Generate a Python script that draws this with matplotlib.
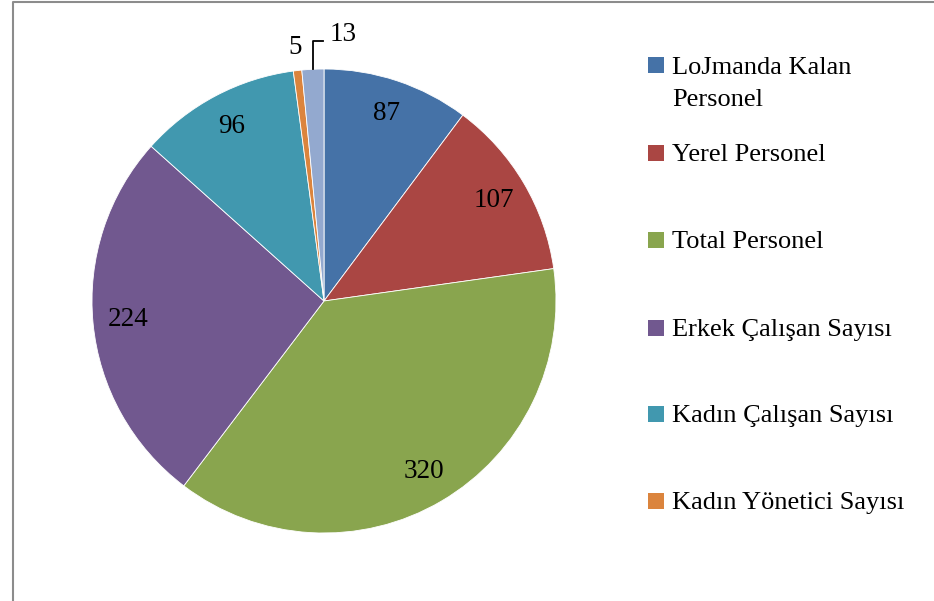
import numpy as np
import matplotlib.pyplot as plt
from matplotlib.lines import Line2D
from matplotlib.patches import Rectangle

# data
labels = ["LoJmanda Kalan\nPersonel", "Yerel Personel", "Total Personel",
          "Erkek Çalışan Sayısı", "Kadın Çalışan Sayısı",
          "Kadın Yönetici Sayısı", "Kadın Yönetici Oranı"]
values = [87, 107, 320, 224, 96, 5, 13]
colors = ["#4572A7", "#AA4643", "#89A54E", "#71588F", "#4198AF", "#DB843D", "#93A9CF"]

plt.rcParams['font.family'] = ['Liberation Serif', 'DejaVu Serif']

W, H = 934, 601
fig = plt.figure(figsize=(W / 100, H / 100), dpi=100)

# pie axes (center ~ (324, 301) px, radius ~232 px)
cx, cy, r = 324, 301, 232
ax = fig.add_axes([(cx - r) / W, (H - cy - r) / H, 2 * r / W, 2 * r / H])
wedges, _ = ax.pie(values, colors=colors, startangle=90, counterclock=False,
                   radius=1, wedgeprops=dict(edgecolor="white", linewidth=0.6))
ax.set_xlim(-1, 1)
ax.set_ylim(-1, 1)
ax.set_aspect("equal")
ax.axis("off")

# value labels
for w, v in zip(wedges, values):
    mid = np.deg2rad((w.theta1 + w.theta2) / 2)
    if v >= 50:
        ax.text(0.85 * np.cos(mid), 0.85 * np.sin(mid), str(v), fontsize=19.5,
                ha="center", va="center")

# small slices outside
w5 = wedges[5]
m5 = np.deg2rad((w5.theta1 + w5.theta2) / 2)
ax.text(1.10 * np.cos(m5), 1.10 * np.sin(m5), str(values[5]), fontsize=19.5,
        ha="center", va="center")

w13 = wedges[6]
m13 = np.deg2rad((w13.theta1 + w13.theta2) / 2)
x0, y0 = np.cos(m13), np.sin(m13)
ax.plot([x0, x0, x0 + 0.045], [y0, 1.12, 1.12], color="black", lw=1.3, clip_on=False)
ax.text(x0 + 0.07, 1.15, str(values[6]), fontsize=19.5, ha="left", va="center")

# legend (only six entries fit)
leg_y = [65, 153, 240, 328, 414, 501]
for lab, c, y in zip(labels[:6], colors[:6], leg_y):
    fig.patches.append(Rectangle((648 / W, (H - y - 8) / H), 16 / W, 16 / H,
                                 transform=fig.transFigure, facecolor=c, edgecolor="none"))
    ty = y + 19 if "\n" in lab else y + 2
    fig.text(672 / W, (H - ty) / H, lab, fontsize=19, ha="left", va="center",
             linespacing=1.55)

# chart frame (partially cropped)
fig.lines.append(Line2D([13 / W, 13 / W, 1], [0, (H - 2) / H, (H - 2) / H],
                        transform=fig.transFigure, color="#8c8c8c", lw=1.5))

fig.savefig("out.png", dpi=100)
